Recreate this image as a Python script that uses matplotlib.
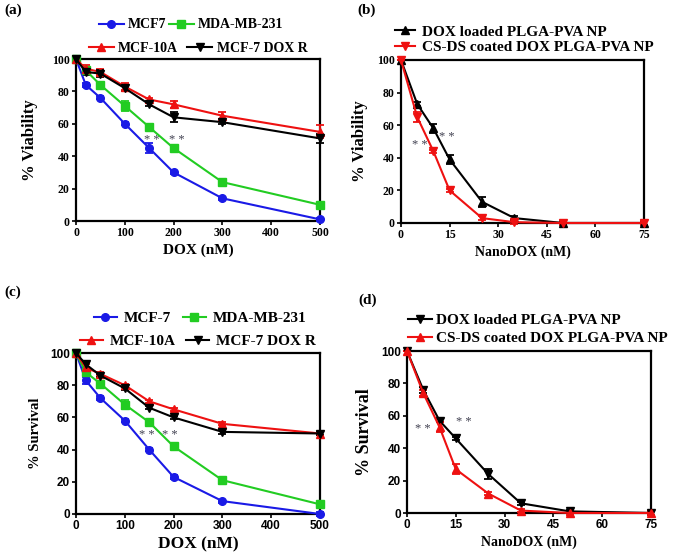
import numpy as np
import matplotlib
matplotlib.use("Agg")
import matplotlib.pyplot as plt
from matplotlib.lines import Line2D

SERIF = "Liberation Serif"
SANS = "Liberation Sans"

# panel (a) / (c): cell lines vs free DOX
dox_nm = [0, 20, 50, 100, 150, 200, 300, 500]
via_mcf7 = [100, 84, 76, 60, 45, 30, 14, 1]
via_mda = [100, 93, 84, 71, 58, 45, 24, 10]
via_10a = [100, 94, 92, 83, 75, 72, 65, 55]
via_doxr = [100, 92, 91, 82, 72, 64, 61, 51]
err_a_mcf7 = [0, 1, 1, 1, 3, 1, 1, 1]
err_a_mda = [0, 1, 1, 3, 1, 1, 1, 1]
err_a_10a = [0, 2, 2, 2, 1, 2, 2, 4]
err_a_doxr = [0, 2, 2, 2, 1, 3, 1, 3]

surv_mcf7 = [100, 83, 72, 58, 40, 23, 8, 0]
surv_mda = [100, 88, 81, 68, 57, 42, 21, 6]
surv_10a = [100, 91, 87, 80, 70, 65, 56, 50]
surv_doxr = [100, 93, 86, 78, 66, 60, 51, 50]
err_c_mcf7 = [0, 2, 1, 1, 1, 1, 1, 1]
err_c_mda = [0, 2, 1, 3, 1, 1, 1, 1]
err_c_10a = [0, 2, 1, 1, 1, 1, 1, 1]
err_c_doxr = [0, 2, 1, 1, 1, 1, 1, 1]

# panel (b) / (d): nano formulations
nano_nm = [0, 5, 10, 15, 25, 35, 50, 75]
via_loaded = [100, 73, 58, 39, 13, 3, 0, 0]
via_coated = [100, 65, 44, 20, 3, 0.5, 0, 0]
err_b_loaded = [0, 1, 3, 3, 3, 1, 1, 1]
err_b_coated = [0, 3, 1, 1, 1, 1, 1, 1]

surv_loaded = [100, 76, 57, 46, 24, 6, 1, 0]
surv_coated = [100, 74, 53, 27, 12, 1.5, 0, 0]
err_d_loaded = [0, 2, 1, 1, 3, 1, 1, 1]
err_d_coated = [0, 2, 3, 3, 1, 1, 1, 1]

# significance marks (x, y)
stars_a = [(156, 50), (207, 50)]
stars_b = [(5.9, 48), (14.2, 53)]
stars_c = [(145, 49), (193, 49)]
stars_d = [(4.9, 52), (17.5, 56)]

BLUE = "#1a1ae6"
GREEN = "#22cc22"
RED = "#ee1111"
BLACK = "#000000"

W, H = 675, 554
fig = plt.figure(figsize=(6.75, 5.54), dpi=100)


def style_axes(ax, xticks, xmax, tick_font, xlabel, ylabel, xsize, ysize, ylx):
    ax.set_xlim(0, xmax)
    ax.set_ylim(0, 100)
    ax.set_xticks(xticks)
    ax.set_yticks([0, 20, 40, 60, 80, 100])
    for s in ax.spines.values():
        s.set_linewidth(1.6)
    ax.tick_params(direction="out", length=3, width=1.2, pad=1.5,
                   top=False, right=False)
    for lab in ax.get_xticklabels() + ax.get_yticklabels():
        lab.set_fontfamily(tick_font)
        lab.set_fontweight("bold")
        lab.set_fontsize(8.5)
    ax.set_xlabel(xlabel, fontfamily=SERIF, fontweight="bold",
                  fontsize=xsize, labelpad=3)
    ax.set_ylabel(ylabel, fontfamily=SERIF, fontweight="bold", fontsize=ysize)
    ax.yaxis.set_label_coords(ylx, 0.5)


def draw(ax, x, y, err, color, marker):
    ax.errorbar(x, y, yerr=err, color=color, marker=marker,
                markersize=5.5, lw=1.5, capsize=3, elinewidth=1.3,
                capthick=1.3, clip_on=False, zorder=3)
    return Line2D([], [], color=color, marker=marker, markersize=5.5, lw=1.5)


def stars(ax, pts):
    for sx, sy in pts:
        ax.text(sx, sy, "* *", ha="center", va="center", fontsize=9,
                fontfamily=SERIF, color="#404050")


def legend_row(handles, labels, px, py, size, loc="center", hl=1.8,
               htp=0.3, cs=0.5):
    leg = fig.legend(handles, labels, ncol=len(handles), loc=loc,
                     bbox_to_anchor=(px / W, 1 - py / H), frameon=False,
                     prop={"family": SERIF, "weight": "bold", "size": size},
                     handlelength=hl, handletextpad=htp, columnspacing=cs,
                     borderpad=0, borderaxespad=0)
    return leg


# (a)
ax_a = fig.add_axes([76 / W, 1 - 221 / H, 244 / W, 162 / H])
h1 = draw(ax_a, dox_nm, via_mcf7, err_a_mcf7, BLUE, "o")
h2 = draw(ax_a, dox_nm, via_mda, err_a_mda, GREEN, "s")
h3 = draw(ax_a, dox_nm, via_10a, err_a_10a, RED, "^")
h4 = draw(ax_a, dox_nm, via_doxr, err_a_doxr, BLACK, "v")
stars(ax_a, stars_a)
style_axes(ax_a, [0, 100, 200, 300, 400, 500], 500, SERIF,
           "DOX (nM)", "% Viability", 11, 12, -0.156)
legend_row([h1, h2], ["MCF7", "MDA-MB-231"], 191, 25, 10, cs=0.2)
legend_row([h3, h4], ["MCF-10A", "MCF-7 DOX R"], 198, 48, 10, cs=0.7)

# (b)
ax_b = fig.add_axes([401 / W, 1 - 223 / H, 243 / W, 163 / H])
g1 = draw(ax_b, nano_nm, via_loaded, err_b_loaded, BLACK, "^")
g2 = draw(ax_b, nano_nm, via_coated, err_b_coated, RED, "v")
stars(ax_b, stars_b)
style_axes(ax_b, [0, 15, 30, 45, 60, 75], 75, SERIF,
           "NanoDOX (nM)", "% Viability", 10, 12, -0.136)
legend_row([g1], ["DOX loaded PLGA-PVA NP"], 395, 32, 11,
           loc="center left", hl=1.3, htp=0.45)
legend_row([g2], ["CS-DS coated DOX PLGA-PVA NP"], 395, 47, 11,
           loc="center left", hl=1.3, htp=0.45)

# (c)
ax_c = fig.add_axes([76 / W, 1 - 514 / H, 244 / W, 161 / H])
k1 = draw(ax_c, dox_nm, surv_mcf7, err_c_mcf7, BLUE, "o")
k2 = draw(ax_c, dox_nm, surv_mda, err_c_mda, GREEN, "s")
k3 = draw(ax_c, dox_nm, surv_10a, err_c_10a, RED, "^")
k4 = draw(ax_c, dox_nm, surv_doxr, err_c_doxr, BLACK, "v")
stars(ax_c, stars_c)
style_axes(ax_c, [0, 100, 200, 300, 400, 500], 500, SANS,
           "DOX (nM)", "% Survival", 12.5, 10.5, -0.139)
legend_row([k1, k2], ["MCF-7", "MDA-MB-231"], 200, 318, 11,
           hl=1.5, htp=0.45, cs=0.8)
legend_row([k3, k4], ["MCF-10A", "MCF-7 DOX R"], 198, 341, 11,
           hl=1.5, htp=0.45, cs=0.7)

# (d)
ax_d = fig.add_axes([407 / W, 1 - 513 / H, 244 / W, 162 / H])
m1 = draw(ax_d, nano_nm, surv_loaded, err_d_loaded, BLACK, "v")
m2 = draw(ax_d, nano_nm, surv_coated, err_d_coated, RED, "^")
stars(ax_d, stars_d)
style_axes(ax_d, [0, 15, 30, 45, 60, 75], 75, SANS,
           "NanoDOX (nM)", "% Survival", 10, 13, -0.139)
legend_row([m1], ["DOX loaded PLGA-PVA NP"], 408, 320, 11,
           loc="center left", hl=1.6, htp=0.2)
legend_row([m2], ["CS-DS coated DOX PLGA-PVA NP"], 408, 338, 11,
           loc="center left", hl=1.6, htp=0.2)

# panel letters
for lbl, (px, py) in zip(["(a)", "(b)", "(c)", "(d)"],
                         [(4, 10), (357, 10), (4, 292), (358, 300)]):
    fig.text(px / W, 1 - py / H, lbl, fontfamily=SERIF,
             fontweight="bold", fontsize=11, va="center", ha="left")

fig.savefig("out.png", dpi=100, facecolor="white")
